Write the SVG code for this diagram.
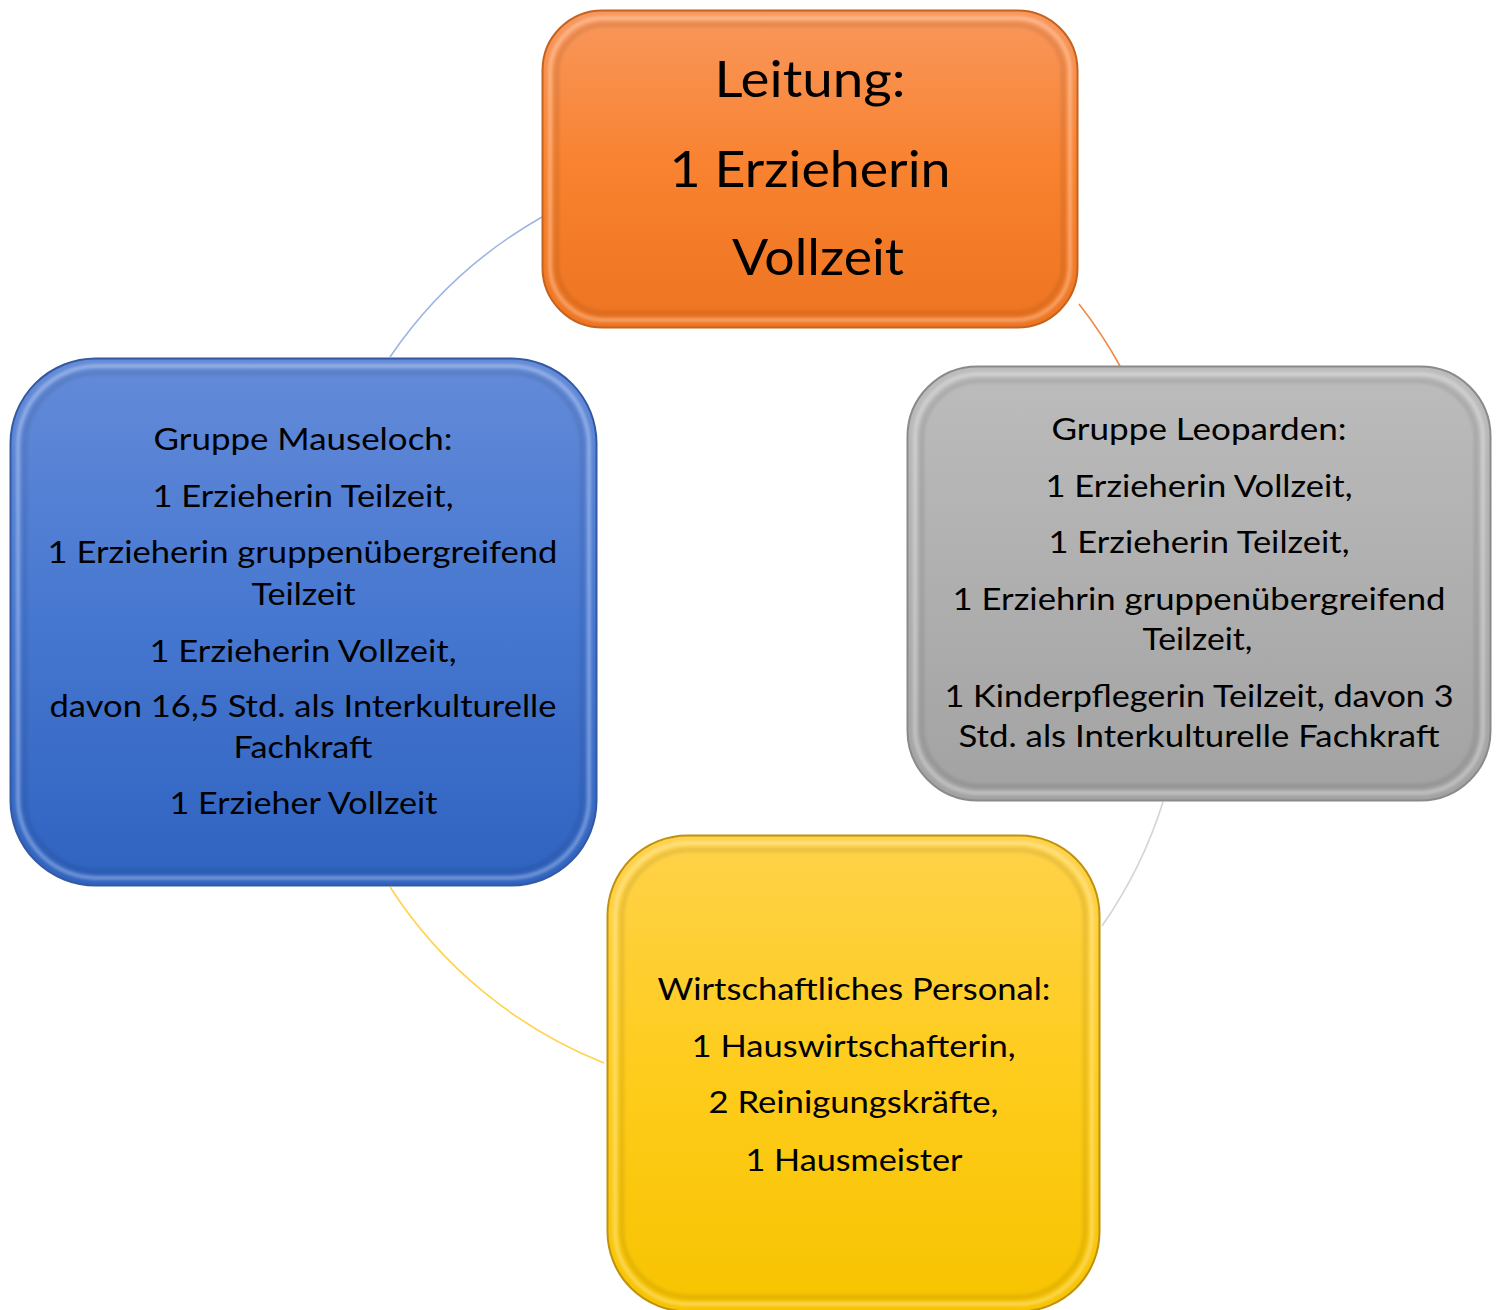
<svg xmlns="http://www.w3.org/2000/svg" width="1502" height="1310" viewBox="0 0 1502 1310">
  <style>
    .t { font-family: Lato, "Liberation Sans", sans-serif; font-size: 30px; fill: #000; text-anchor: middle; }
    .title { font-size: 50px; }
    .conn { fill: none; stroke-width: 1.6; }
    .hl { fill: none; stroke: #ffffff; stroke-opacity: 0.32; stroke-width: 4; filter: url(#soft); }
    .sh { fill: none; stroke: #000000; stroke-opacity: 0.08; stroke-width: 5; filter: url(#soft); }
  </style>
  <defs>
    <filter id="soft" x="-5%" y="-5%" width="110%" height="110%">
      <feGaussianBlur stdDeviation="1.6"/>
    </filter>
    <linearGradient id="gOrange" x1="0" y1="0" x2="0" y2="1">
      <stop offset="0" stop-color="#F9975C"/>
      <stop offset="0.5" stop-color="#F8822F"/>
      <stop offset="1" stop-color="#EE7420"/>
    </linearGradient>
    <linearGradient id="gBlue" x1="0" y1="0" x2="0" y2="1">
      <stop offset="0" stop-color="#648BD9"/>
      <stop offset="0.5" stop-color="#4677D0"/>
      <stop offset="1" stop-color="#2F63C0"/>
    </linearGradient>
    <linearGradient id="gGray" x1="0" y1="0" x2="0" y2="1">
      <stop offset="0" stop-color="#BCBCBC"/>
      <stop offset="0.5" stop-color="#AFAFAF"/>
      <stop offset="1" stop-color="#A2A2A2"/>
    </linearGradient>
    <linearGradient id="gYellow" x1="0" y1="0" x2="0" y2="1">
      <stop offset="0" stop-color="#FFD24A"/>
      <stop offset="0.5" stop-color="#FECC1C"/>
      <stop offset="1" stop-color="#F7C300"/>
    </linearGradient>
  </defs>

  <g id="connectors">
    <path class="conn" stroke="#9DB5E3" d="M 542 217 A 455 455 0 0 0 390 357"/>
    <path class="conn" stroke="#F08A45" d="M 1079 304 A 455 455 0 0 1 1120 366"/>
    <path class="conn" stroke="#D4D4D4" d="M 1163 802 A 455 455 0 0 1 1102 926"/>
    <path class="conn" stroke="#FFD34C" d="M 604 1063 A 455 455 0 0 1 390 887"/>
  </g>

  <g id="node-leitung">
    <rect x="542.5" y="10.5" width="535" height="317" rx="60" fill="url(#gOrange)" stroke="#C3631F" stroke-width="2"/>
    <rect x="550" y="18" width="520" height="302" rx="54" class="hl"/>
    <rect x="557" y="25" width="506" height="288" rx="48" class="sh"/>
    <text class="t title" x="810" y="97" textLength="191" lengthAdjust="spacingAndGlyphs">Leitung:</text>
    <text class="t title" x="810" y="187" textLength="281" lengthAdjust="spacingAndGlyphs">1 Erzieherin</text>
    <text class="t title" x="818" y="275" textLength="172" lengthAdjust="spacingAndGlyphs">Vollzeit</text>
  </g>

  <g id="node-mauseloch">
    <rect x="10.5" y="358.5" width="586" height="527" rx="85" fill="url(#gBlue)" stroke="#3459A0" stroke-width="2"/>
    <rect x="18" y="366" width="571" height="512" rx="79" class="hl"/>
    <rect x="25" y="373" width="557" height="498" rx="73" class="sh"/>
    <text class="t" x="303" y="450" textLength="299" lengthAdjust="spacingAndGlyphs">Gruppe Mauseloch:</text>
    <text class="t" x="303" y="507" textLength="301" lengthAdjust="spacingAndGlyphs">1 Erzieherin Teilzeit,</text>
    <text class="t" x="302.5" y="563" textLength="510" lengthAdjust="spacingAndGlyphs">1 Erzieherin gruppenübergreifend</text>
    <text class="t" x="303.5" y="605" textLength="104" lengthAdjust="spacingAndGlyphs">Teilzeit</text>
    <text class="t" x="303" y="662" textLength="307" lengthAdjust="spacingAndGlyphs">1 Erzieherin Vollzeit,</text>
    <text class="t" x="303" y="717" textLength="507" lengthAdjust="spacingAndGlyphs">davon 16,5 Std. als Interkulturelle</text>
    <text class="t" x="303" y="758" textLength="139" lengthAdjust="spacingAndGlyphs">Fachkraft</text>
    <text class="t" x="303.5" y="814" textLength="268" lengthAdjust="spacingAndGlyphs">1 Erzieher Vollzeit</text>
  </g>

  <g id="node-leoparden">
    <rect x="907.5" y="366.5" width="583" height="434" rx="70" fill="url(#gGray)" stroke="#8A8A8A" stroke-width="2"/>
    <rect x="915" y="374" width="568" height="419" rx="64" class="hl"/>
    <rect x="922" y="381" width="554" height="405" rx="58" class="sh"/>
    <text class="t" x="1199" y="440" textLength="295" lengthAdjust="spacingAndGlyphs">Gruppe Leoparden:</text>
    <text class="t" x="1199" y="497" textLength="307" lengthAdjust="spacingAndGlyphs">1 Erzieherin Vollzeit,</text>
    <text class="t" x="1199" y="553" textLength="301" lengthAdjust="spacingAndGlyphs">1 Erzieherin Teilzeit,</text>
    <text class="t" x="1199" y="610" textLength="493" lengthAdjust="spacingAndGlyphs">1 Erziehrin gruppenübergreifend</text>
    <text class="t" x="1197.5" y="650" textLength="110" lengthAdjust="spacingAndGlyphs">Teilzeit,</text>
    <text class="t" x="1199" y="707" textLength="509" lengthAdjust="spacingAndGlyphs">1 Kinderpflegerin Teilzeit, davon 3</text>
    <text class="t" x="1199" y="747" textLength="481" lengthAdjust="spacingAndGlyphs">Std. als Interkulturelle Fachkraft</text>
  </g>

  <g id="node-wirtschaft">
    <rect x="607.5" y="835.5" width="492" height="476" rx="80" fill="url(#gYellow)" stroke="#BE9210" stroke-width="2"/>
    <rect x="615" y="843" width="477" height="461" rx="74" class="hl" stroke-opacity="0.5"/>
    <rect x="622" y="850" width="463" height="447" rx="68" class="sh"/>
    <text class="t" x="854" y="1000" textLength="393" lengthAdjust="spacingAndGlyphs">Wirtschaftliches Personal:</text>
    <text class="t" x="853.5" y="1057" textLength="324" lengthAdjust="spacingAndGlyphs">1 Hauswirtschafterin,</text>
    <text class="t" x="853.5" y="1113" textLength="290" lengthAdjust="spacingAndGlyphs">2 Reinigungskräfte,</text>
    <text class="t" x="854" y="1171" textLength="217" lengthAdjust="spacingAndGlyphs">1 Hausmeister</text>
  </g>
</svg>
